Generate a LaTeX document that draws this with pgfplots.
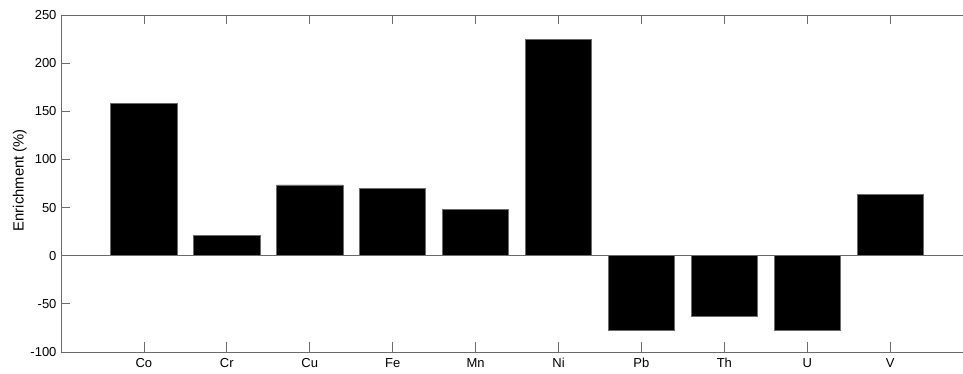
\documentclass[border=0pt]{standalone}
\usepackage{fontspec}
\setmainfont{Liberation Sans}
\usepackage{pgfplots}
\pgfplotsset{compat=1.18}
\definecolor{axgray}{gray}{0.42}
\begin{document}
\begin{tikzpicture}
\begin{axis}[
  scale only axis, width=903pt, height=337pt,
  xmin=0, xmax=10.89, ymin=-100, ymax=250,
  xtick pos=both, ytick pos=left,
  ytick={-100,-50,...,250},
  xtick={1,...,10}, xticklabels={Co,Cr,Cu,Fe,Mn,Ni,Pb,Th,U,V},
  xtick align=inside, ytick align=inside, major tick length=9.5pt,
  axis line style={axgray, line width=0.8pt},
  tick style={axgray, line width=0.8pt},
  /pgf/number format/assume math mode=true,
  tick label style={font=\fontsize{13}{15}\selectfont, black},
  xticklabel style={yshift=-3pt},
  yticklabel style={xshift=-1pt},
  ylabel={Enrichment (\%)},
  ylabel style={font=\fontsize{14.8}{17}\selectfont, at={(axis description cs:-0.0455,0.51)}, anchor=center},
]
\addplot[ybar, bar width=0.8, fill=black, draw=axgray, line width=0.8pt, bar shift=0pt] coordinates {
  (1,158) (2,21) (3,73.5) (4,69.6) (5,48) (6,224.5) (7,-77.5) (8,-62.6) (9,-77.5) (10,64)
};
\draw[axgray, line width=0.8pt] (axis cs:0,0) -- (axis cs:10.89,0);
\coordinate (ll) at (rel axis cs:0,0);
\coordinate (ur) at (rel axis cs:1,1);
\end{axis}
\pgfresetboundingbox
\path ([shift={(-61pt,-22pt)}]ll) rectangle ([shift={(-1pt,15pt)}]ur);
\end{tikzpicture}
\end{document}
